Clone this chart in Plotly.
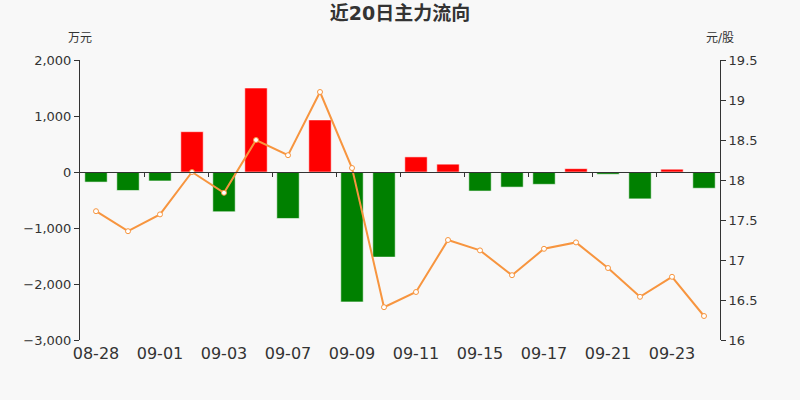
import plotly.graph_objects as go

dates = ["08-28", "08-31", "09-01", "09-02", "09-03", "09-04", "09-07", "09-08", "09-09", "09-10",
         "09-11", "09-14", "09-15", "09-16", "09-17", "09-18", "09-21", "09-22", "09-23", "09-24"]
main_flow = [-180, -330, -160, 720, -710, 1500, -830, 930, -2320, -1520,
             270, 140, -340, -270, -220, 60, -40, -480, 50, -290]
price = [17.61, 17.36, 17.57, 18.10, 17.84, 18.50, 18.31, 19.10, 18.15, 16.41,
         16.60, 17.25, 17.12, 16.81, 17.14, 17.22, 16.90, 16.54, 16.79, 16.30]
left_ticks = [-3000, -2000, -1000, 0, 1000, 2000]
right_ticks = [16, 16.5, 17, 17.5, 18, 18.5, 19, 19.5]
right_tick_text = ["16", "16.5", "17", "17.5", "18", "18.5", "19", "19.5"]

FONT = "DejaVu Sans, Noto Sans CJK SC, sans-serif"
TXT = "#333333"
BG = "#f8f8f8"

bar_colors = ["#ff0000" if v >= 0 else "#008000" for v in main_flow]

fig = go.Figure()
fig.add_trace(go.Bar(
    x=dates, y=main_flow, marker=dict(color=bar_colors, line=dict(color="rgba(255,255,255,0.55)", width=1)),
    yaxis="y", xaxis="x", hoverinfo="skip", showlegend=False,
))
fig.add_trace(go.Scatter(
    x=dates, y=price, mode="lines+markers", yaxis="y2", xaxis="x",
    line=dict(color="#f7953f", width=2),
    marker=dict(symbol="circle", size=5, color="#ffffff", line=dict(color="#f7953f", width=1)),
    hoverinfo="skip", showlegend=False,
))
# invisible trace to activate the overlay axis that draws the zero-line ticks
fig.add_trace(go.Scatter(x=[0], y=[0], xaxis="x3", yaxis="y", mode="markers",
                         marker=dict(opacity=0), showlegend=False, hoverinfo="skip"))

fig.update_layout(
    width=800, height=400,
    margin=dict(l=80, r=80, t=60, b=60),
    paper_bgcolor=BG, plot_bgcolor=BG,
    bargap=0.3,
    font=dict(family=FONT, color=TXT),
    title=dict(text="<b>近20日主力流向</b>", x=0.5, xanchor="center", y=0.967, yanchor="middle",
               font=dict(size=19, color=TXT, family=FONT)),
    xaxis=dict(type="category", tickvals=dates[::2], ticktext=dates[::2], showline=False,
               ticks="", showgrid=False, zeroline=False, range=[-0.5, 19.5],
               tickfont=dict(size=16, color=TXT), ticklabelstandoff=2),
    xaxis3=dict(overlaying="x", anchor="free", position=0.6, range=[-0.5, 19.5],
                tickvals=[1.5 + 2 * i for i in range(9)], showticklabels=False,
                ticks="outside", ticklen=4, tickcolor=TXT, showline=True, linecolor=TXT,
                linewidth=1, showgrid=False, zeroline=False),
    yaxis=dict(range=[-3000, 2000], tickvals=left_ticks, tickformat=",d", showgrid=False,
               zeroline=False, showline=True, linecolor=TXT, linewidth=1, ticks="outside",
               ticklen=5, tickcolor=TXT, tickfont=dict(size=13, color=TXT)),
    yaxis2=dict(range=[16, 19.5], tickvals=right_ticks, ticktext=right_tick_text, overlaying="y",
                side="right", showgrid=False, zeroline=False, showline=True, linecolor=TXT,
                linewidth=1, ticks="outside", ticklen=5, tickcolor=TXT,
                tickfont=dict(size=13, color=TXT)),
    annotations=[
        dict(text="万元", xref="paper", yref="paper", x=0, y=1.0, yshift=22, xanchor="center",
             yanchor="middle", showarrow=False, font=dict(size=12, color=TXT)),
        dict(text="元/股", xref="paper", yref="paper", x=1, y=1.0, yshift=22, xanchor="center",
             yanchor="middle", showarrow=False, font=dict(size=12, color=TXT)),
    ],
)

fig.write_html(
    "out.html",
    config={"displayModeBar": False},
    post_script="document.body.style.margin='0';document.body.style.background='" + BG + "';",
)
